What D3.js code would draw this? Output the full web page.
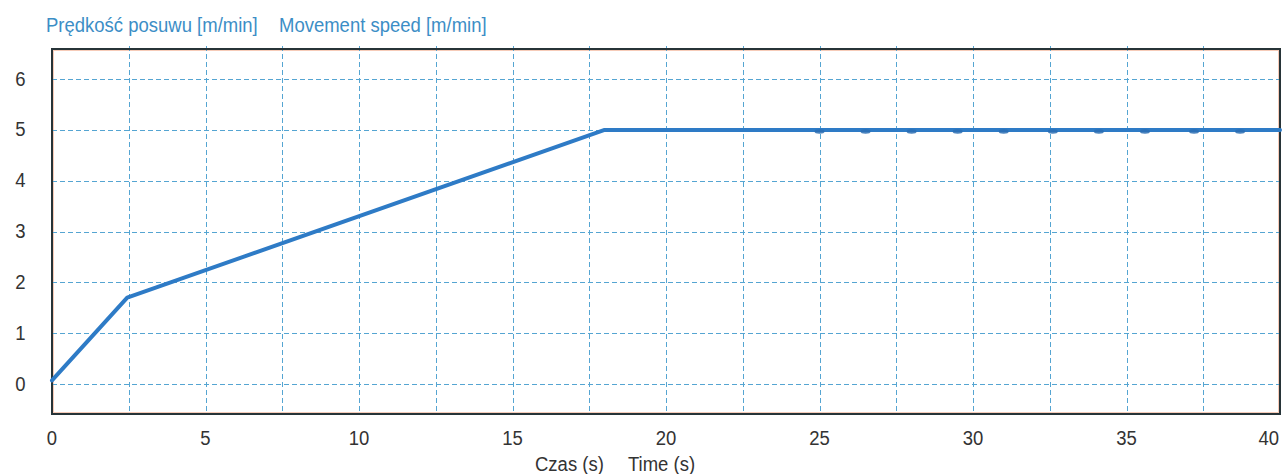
<!DOCTYPE html>
<html>
<head>
<meta charset="utf-8">
<script src="https://cdn.jsdelivr.net/npm/d3@7"></script>
<style>
  html, body { margin: 0; padding: 0; background: #ffffff; }
  svg { display: block; }
  text { font-family: Arial, "Liberation Sans", sans-serif; }
</style>
</head>
<body>
<svg id="chart" width="1287" height="474"></svg>
<script>
// Feed speed over time
const times  = [0, 2.45, 18, 40];
const speeds = [0.07, 1.70, 5.0, 5.0];

// small ripples visible on the steady-state segment
const rippleTimes = [25.0, 26.5, 28.0, 29.5, 31.0, 32.6, 34.1, 35.6, 37.2, 38.7];
const rippleValue = 5.0;

const xTicks = [0, 5, 10, 15, 20, 25, 30, 35, 40];
const yTicks = [0, 1, 2, 3, 4, 5, 6];
const xGrid = d3.range(2.5, 40, 2.5);

const titlePl = "Prędkość posuwu [m/min]";
const titleEn = "Movement speed [m/min]";
const xTitlePl = "Czas (s)";
const xTitleEn = "Time (s)";

const plot = { left: 52, right: 1280, top: 49, bottom: 414 };

const svg = d3.select("#chart");

const x = d3.scaleLinear().domain([0, 40]).range([plot.left, plot.right]);
const y = d3.scaleLinear().domain([-0.59, 6.594]).range([plot.bottom, plot.top]);

// text helper: slightly tall glyphs
function label(sel, px, py) {
  return sel.attr("transform", `translate(${px},${py}) scale(1,1.1)`);
}

// faint inner frame
svg.append("rect")
  .attr("x", plot.left + 1.5).attr("y", plot.top + 1.5)
  .attr("width", plot.right - plot.left - 3).attr("height", plot.bottom - plot.top - 3)
  .attr("fill", "#ffffff").attr("stroke", "#f6cbb8").attr("stroke-width", 1);

// grid
const grid = svg.append("g").attr("stroke", "#55a5d2").attr("stroke-width", 1)
  .attr("stroke-dasharray", "5,3");
grid.selectAll("line.v").data(xGrid).join("line").attr("class", "v")
  .attr("x1", d => Math.round(x(d)) + 0.5).attr("x2", d => Math.round(x(d)) + 0.5)
  .attr("y1", plot.top - 3).attr("y2", plot.bottom);
grid.selectAll("line.h").data(yTicks).join("line").attr("class", "h")
  .attr("x1", plot.left).attr("x2", plot.right)
  .attr("y1", d => Math.round(y(d)) + 0.5).attr("y2", d => Math.round(y(d)) + 0.5);

// frame
svg.append("rect")
  .attr("x", plot.left).attr("y", plot.top)
  .attr("width", plot.right - plot.left).attr("height", plot.bottom - plot.top)
  .attr("fill", "none").attr("stroke", "#273438").attr("stroke-width", 2);

// speed curve
const pts = times.map((t, i) => [t, speeds[i]]);
svg.append("path")
  .datum(pts)
  .attr("fill", "none")
  .attr("stroke", "#2e7bc6")
  .attr("stroke-width", 4)
  .attr("stroke-linejoin", "round")
  .attr("stroke-linecap", "round")
  .attr("d", d3.line().x(d => x(d[0])).y(d => y(d[1])));

svg.append("g").selectAll("ellipse").data(rippleTimes).join("ellipse")
  .attr("cx", d => x(d)).attr("cy", y(rippleValue) + 1.5)
  .attr("rx", 5).attr("ry", 2.2)
  .attr("fill", "#2a6db3").attr("opacity", 0.85);

// y tick labels
svg.append("g").selectAll("text").data(yTicks).join("text")
  .each(function (d) { label(d3.select(this), 20.5, y(d) + 6.5); })
  .attr("text-anchor", "middle")
  .attr("font-size", 18.5).attr("fill", "#333")
  .text(d => d);

// x tick labels
svg.append("g").selectAll("text").data(xTicks).join("text")
  .each(function (d) { label(d3.select(this), d === 40 ? plot.right - 1 : x(d), 445); })
  .attr("text-anchor", d => d === 40 ? "end" : "middle")
  .attr("font-size", 18.5).attr("fill", "#333")
  .text(d => d);

// titles
label(svg.append("text"), 46, 32)
  .attr("font-size", 18.5).attr("fill", "#3c8ec6").text(titlePl);
label(svg.append("text"), 279, 32)
  .attr("font-size", 18.5).attr("fill", "#3c8ec6").text(titleEn);

label(svg.append("text"), 535, 471)
  .attr("font-size", 18.5).attr("fill", "#333").text(xTitlePl);
label(svg.append("text"), 628, 471)
  .attr("font-size", 18.5).attr("fill", "#333").text(xTitleEn);
</script>
</body>
</html>
